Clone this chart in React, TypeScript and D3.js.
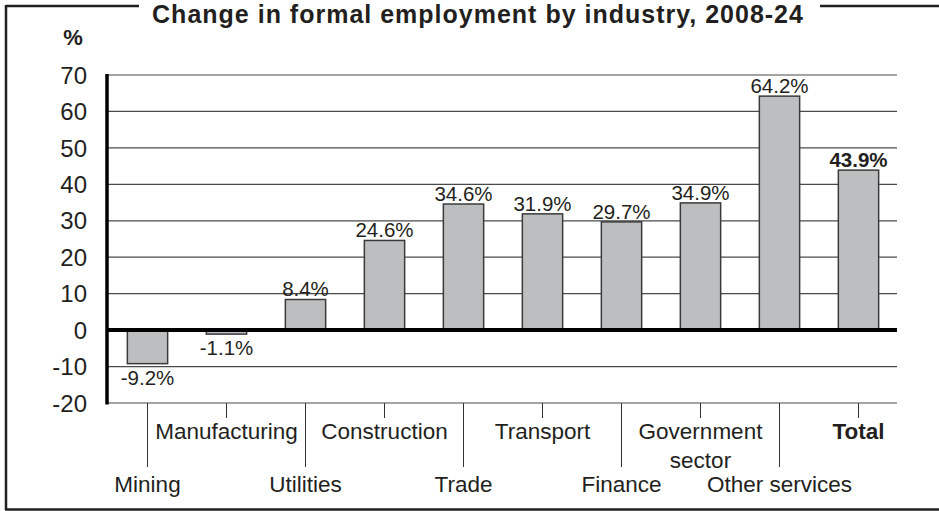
import { scaleBand, scaleLinear, range } from 'd3';

const categories = [
  'Mining',
  'Manufacturing',
  'Utilities',
  'Construction',
  'Trade',
  'Transport',
  'Finance',
  'Government\nsector',
  'Other services',
  'Total',
];
const values = [-9.2, -1.1, 8.4, 24.6, 34.6, 31.9, 29.7, 34.9, 64.2, 43.9];
const yTicks = range(-20, 71, 10);
const title = 'Change in formal employment by industry, 2008-24';

const W = 939;
const H = 511;
const FONT = '"Liberation Sans", Arial, Helvetica, sans-serif';
const INK = '#231f20';
const PLOT = { left: 107, right: 897, top: 75, bottom: 403 };

export default function App() {
  const x = scaleBand<string>()
    .domain(categories)
    .range([PLOT.left + 1, PLOT.right + 1])
    .paddingInner(0.49)
    .paddingOuter(0.245);
  const y = scaleLinear().domain([-20, 70]).range([PLOT.bottom, PLOT.top]);
  const bw = x.bandwidth();
  const mid = (c: string) => (x(c) ?? 0) + bw / 2;

  return (
    <svg
      width={W}
      height={H}
      viewBox={`0 0 ${W} ${H}`}
      style={{ position: 'absolute', left: 0, top: 0, background: '#fff' }}
      fontFamily={FONT}
    >
      {/* frame */}
      <line x1={6} x2={W} y1={6} y2={6} stroke={INK} strokeWidth={2.5} />
      <line x1={6} x2={6} y1={5} y2={510} stroke={INK} strokeWidth={2.5} />
      <line x1={5} x2={W} y1={509.5} y2={509.5} stroke={INK} strokeWidth={2.5} />
      <rect x={139} y={0} width={681} height={26} fill="#fff" />
      <text
        x={478}
        y={23}
        textAnchor="middle"
        fontSize={25}
        fontWeight="bold"
        letterSpacing={1}
        fill={INK}
      >
        {title}
      </text>

      <text x={73} y={45} textAnchor="middle" fontSize={22} fontWeight="bold" fill={INK}>
        %
      </text>

      {/* grid + y labels */}
      {yTicks.map((t) => (
        <g key={t}>
          {t !== 0 && (
            <line
              x1={PLOT.left}
              x2={PLOT.right}
              y1={y(t)}
              y2={y(t)}
              stroke="#4a4a4a"
              strokeWidth={1.2}
            />
          )}
          <text x={87} y={y(t)} dy="0.36em" textAnchor="end" fontSize={24} fill={INK}>
            {t}
          </text>
        </g>
      ))}

      {/* bars */}
      {categories.map((c, i) => {
        const v = values[i];
        const y0 = y(Math.max(0, v));
        const h = Math.abs(y(v) - y(0));
        return (
          <rect
            key={c}
            x={x(c)}
            y={y0}
            width={bw}
            height={h}
            fill="#bcbec0"
            stroke="#3a3a3a"
            strokeWidth={1.5}
          />
        );
      })}

      {/* value labels */}
      {categories.map((c, i) => {
        const v = values[i];
        const isTotal = c === 'Total';
        return (
          <text
            key={c}
            x={mid(c)}
            y={v >= 0 ? y(v) - 3 : y(v) + 21}
            textAnchor="middle"
            fontSize={20.5}
            fontWeight={isTotal ? 'bold' : 'normal'}
            fill={INK}
          >
            {`${v.toFixed(1)}%`}
          </text>
        );
      })}

      {/* axes */}
      <line x1={PLOT.left} x2={PLOT.right} y1={y(0)} y2={y(0)} stroke="#000" strokeWidth={4} />
      <line x1={PLOT.left} x2={PLOT.left} y1={PLOT.top - 1} y2={PLOT.bottom + 1.5} stroke="#000" strokeWidth={3.5} />

      {/* category ticks and labels */}
      {categories.map((c, i) => {
        const low = i % 2 === 0;
        const cx = mid(c);
        const lines = c.split('\n');
        return (
          <g key={c}>
            <line x1={cx} x2={cx} y1={PLOT.bottom} y2={low ? 467 : 418} stroke="#333" strokeWidth={1} />
            {lines.map((ln, j) => (
              <text
                key={ln}
                x={cx}
                y={(low ? 492 : 439) + j * 29}
                textAnchor="middle"
                fontSize={22.5}
                fontWeight={c === 'Total' ? 'bold' : 'normal'}
                fill={INK}
              >
                {ln}
              </text>
            ))}
          </g>
        );
      })}
    </svg>
  );
}
